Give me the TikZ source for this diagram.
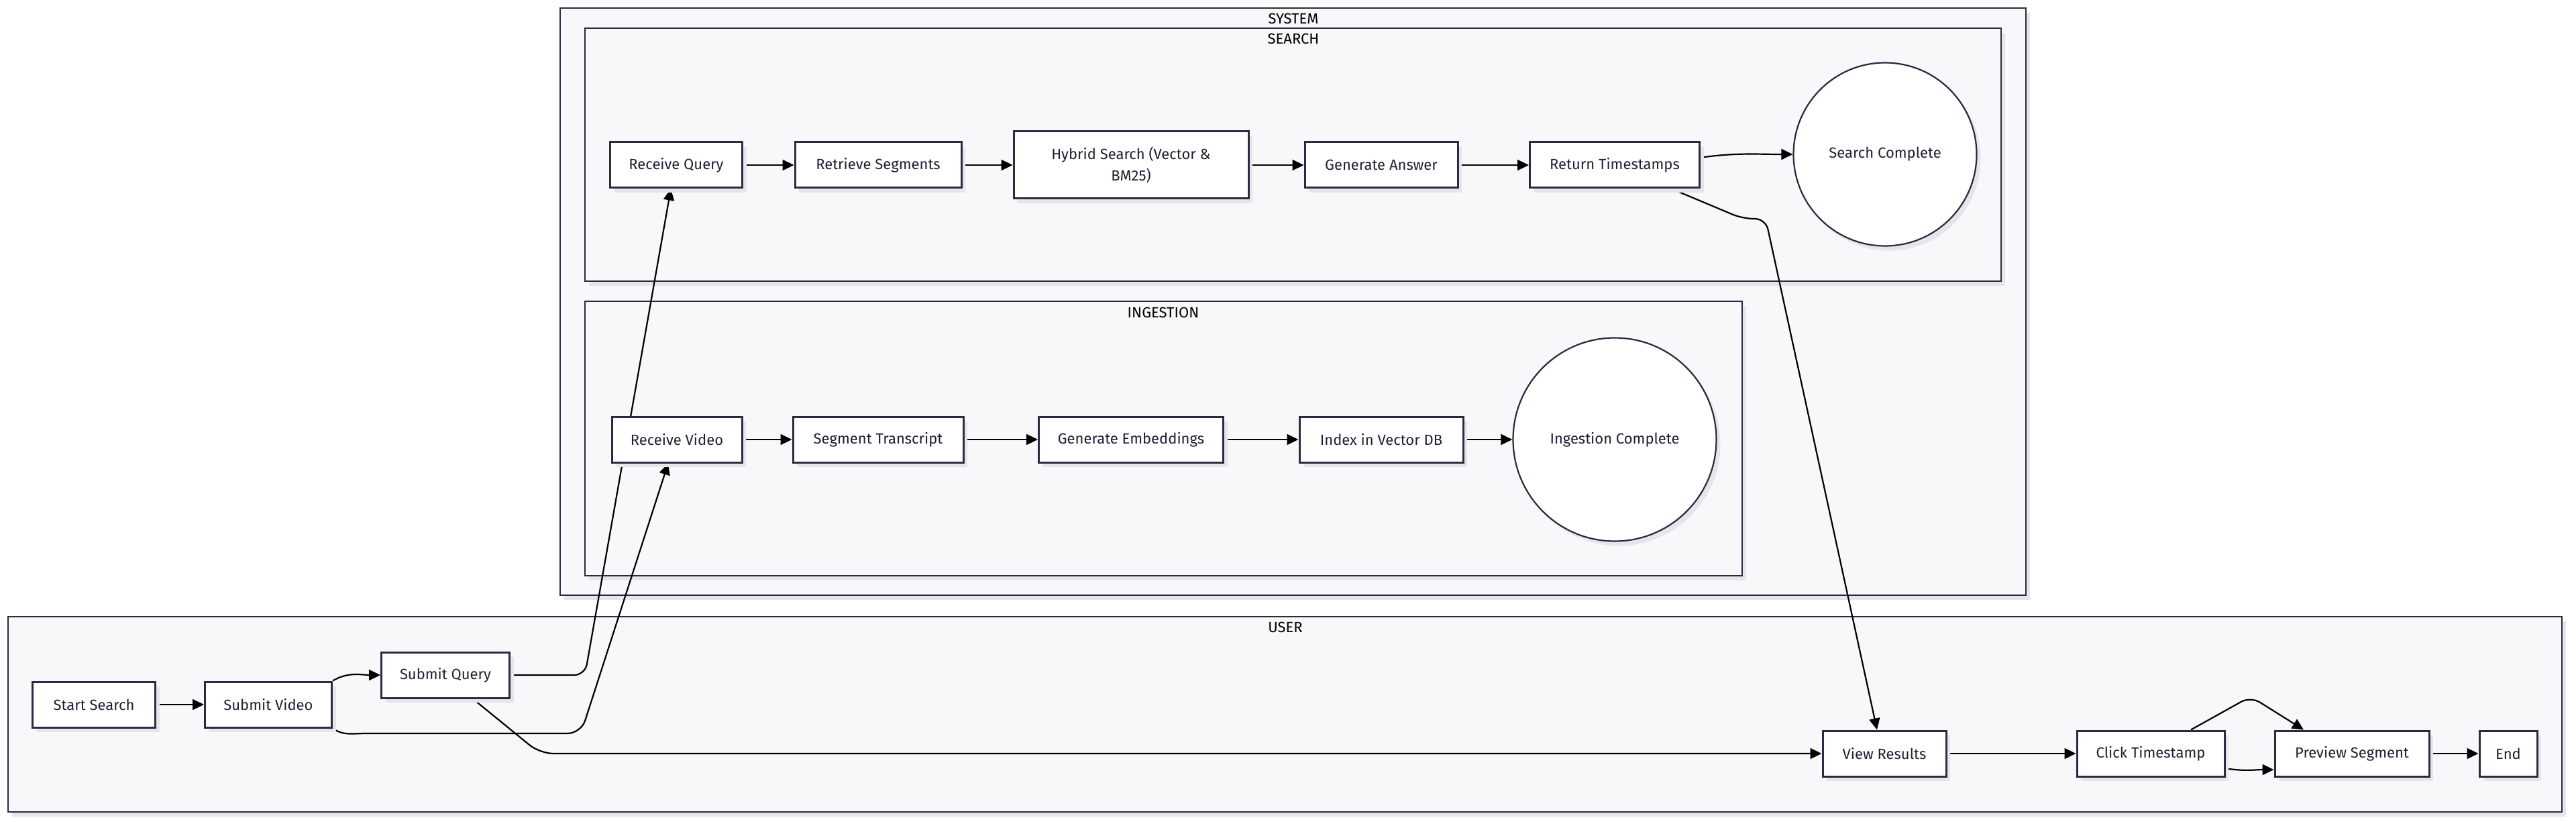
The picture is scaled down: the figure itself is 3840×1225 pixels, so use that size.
\documentclass[tikz,border=0pt]{standalone}
\usepackage{fontspec}
\setmainfont{Fira Sans}
\usetikzlibrary{shapes, positioning, arrows.meta, calc, shadows, backgrounds}
\pgfdeclarelayer{edges}
\pgfsetlayers{background,edges,main}
\definecolor{inkline}{HTML}{2A2A40}
\definecolor{inktext}{HTML}{1F1F33}
\definecolor{groupfill}{HTML}{F8F8FA}
\definecolor{shade}{HTML}{E6E6EA}

\begin{document}
\begin{tikzpicture}[x=0.5pt, y=0.5pt,
    proc/.style={rectangle, draw=inkline, line width=1.5pt, fill=white, text=inktext,
        minimum height=34pt, inner sep=2pt, align=center, font=\fontsize{11}{16}\selectfont,
        drop shadow={shadow xshift=3pt, shadow yshift=-3.5pt, fill=shade, opacity=1}},
    finish/.style={proc, circle, line width=1.1pt},
    grp/.style={draw=inkline, line width=1.4pt, fill=groupfill,
        drop shadow={shadow xshift=3pt, shadow yshift=-3.5pt, fill=shade, opacity=1}},
    grplabel/.style={text=black, font=\fontsize{11}{13}\selectfont},
    flow/.style={draw=black, line width=1.1pt, -{Triangle[length=8.5pt,width=8pt]}}]

    \begin{scope}[on background layer]
        \fill[white] (0,0) rectangle (3840,-1225);
        \draw[grp] (835,-12) rectangle (3020,-887);
        \draw[grp] (872,-42) rectangle (2983,-419);
        \draw[grp] (872,-449) rectangle (2597,-858);
        \draw[grp] (12,-919) rectangle (3819,-1210);
    \end{scope}
    \useasboundingbox (0,0) rectangle (3840,-1225);

    \node[grplabel] (systemlbl) at (1928,-28) {SYSTEM};
    \node[grplabel] (searchlbl) at (1928,-58) {SEARCH};
    \node[grplabel] (ingestlbl) at (1734,-466) {INGESTION};
    \node[grplabel] (userlbl) at (1916,-935) {USER};

    \node[proc, minimum width=98.5pt] (rq) at (1008,-246) {Receive Query};
    \node[proc, minimum width=124pt] (rs) at (1309,-246) {Retrieve Segments};
    \node[proc, minimum width=175pt, minimum height=50pt] (hs) at (1686,-246) {Hybrid Search (Vector \&\\BM25)};
    \node[proc, minimum width=114pt] (ga) at (2059,-246) {Generate Answer};
    \node[proc, minimum width=126.5pt] (rt) at (2407,-246) {Return Timestamps};
    \node[finish, minimum size=136.5pt] (sc) at (2810,-230) {Search Complete};

    \node[proc, minimum width=97pt] (rv) at (1009,-655) {Receive Video};
    \node[proc, minimum width=127pt] (st) at (1309,-655) {Segment Transcript};
    \node[proc, minimum width=137.5pt] (ge) at (1686,-655) {Generate Embeddings};
    \node[proc, minimum width=122pt] (ix) at (2059,-655) {Index in Vector DB};
    \node[finish, minimum size=151.5pt] (ic) at (2407,-655) {Ingestion Complete};

    \node[proc, minimum width=91.5pt] (ss) at (140,-1050) {Start Search};
    \node[proc, minimum width=94.5pt] (sv) at (400,-1050) {Submit Video};
    \node[proc, minimum width=95.5pt] (sq) at (664,-1006) {Submit Query};
    \node[proc, minimum width=92pt] (vr) at (2809,-1123) {View Results};
    \node[proc, minimum width=110pt] (ct) at (3206,-1123) {Click Timestamp};
    \node[proc, minimum width=115pt] (ps) at (3506,-1123) {Preview Segment};
    \node[proc, minimum width=43pt] (en) at (3739,-1123) {End};

    \coordinate (tbend1) at (2598,-326);
    \coordinate (tbend2) at (2632,-326);
    \coordinate (qbend) at (872,-1006);
    \coordinate (vbend1) at (545,-1093);
    \coordinate (vbend2) at (866,-1093);
    \coordinate (rbend) at (805,-1123);
    \coordinate (cpeak) at (3355,-1038);

    \begin{pgfonlayer}{edges}
        \draw[flow] (rq) -- (rs);
        \draw[flow] (rs) -- (hs);
        \draw[flow] (hs) -- (ga);
        \draw[flow] (ga) -- (rt);
        \draw[flow] (rt.5) to[out=8,in=180] (sc.west);
        \draw[flow, rounded corners=8pt] ([xshift=42.5pt]rt.south) -- (tbend1) -- (tbend2) -- ([xshift=-5.5pt]vr.north);

        \draw[flow] (rv) -- (st);
        \draw[flow] (st) -- (ge);
        \draw[flow] (ge) -- (ix);
        \draw[flow] (ix) -- (ic);

        \draw[flow] (ss) -- (sv);
        \draw[flow] (sv.north east) to[out=30,in=180] (sq.west);
        \draw[flow] (sv.south east) to[out=-35,in=180] (vbend1) [rounded corners=10pt] -- (vbend2) -- ([xshift=-6.5pt]rv.south);
        \draw[flow, rounded corners=8pt] (sq.east) -- (qbend) -- ([xshift=-4pt]rq.south);
        \draw[flow, rounded corners=10pt] ([xshift=20.5pt]sq.south) -- (rbend) -- (vr.west);
        \draw[flow] (vr) -- (ct);
        \draw[flow, rounded corners=8pt] ([xshift=30pt]ct.north) -- (cpeak) -- ([xshift=-36pt]ps.north);
        \draw[flow] ([yshift=-11pt]ct.east) to[out=-10,in=180] ([yshift=-12pt]ps.west);
        \draw[flow] (ps) -- (en);
    \end{pgfonlayer}
\end{tikzpicture}
\end{document}
